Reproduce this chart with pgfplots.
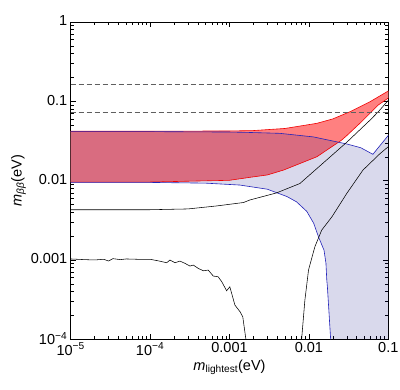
\documentclass[border=0pt]{standalone}
\usepackage{fontspec}
\setmainfont{Liberation Sans}
\usepackage{pgfplots}
\pgfplotsset{compat=1.18}

\definecolor{bandred}{RGB}{255,128,128}
\definecolor{linered}{RGB}{240,0,0}
\definecolor{lineblue}{RGB}{35,35,185}
\definecolor{regionblue}{RGB}{0,0,128}
\definecolor{dashgray}{RGB}{95,95,95}

\begin{document}
\begin{tikzpicture}
\begin{axis}[
  scale only axis,
  width=317.6pt, height=317.3pt,
  xmode=log, ymode=log,
  xmin=1e-5, xmax=0.1, ymin=1e-4, ymax=1,
  xtick={1e-5,1e-4,0.001,0.01,0.1},
  xticklabels={10\textsuperscript{−5},10\textsuperscript{−4},0.001,0.01,0.1},
  ytick={1e-4,0.001,0.01,0.1,1},
  yticklabels={10\textsuperscript{−4},0.001,0.01,0.1,1},
  /pgf/number format/assume math mode=true,
  tick label style={font=\fontsize{14.5}{16}\selectfont},
  label style={font=\fontsize{14.5}{16}\selectfont},
  major tick length=5pt, minor tick length=3pt,
  every tick/.style={black, line width=0.5pt},
  axis line style={line width=0.9pt},
  xlabel={\textit{m}\textsubscript{lightest}(eV)},
  ylabel={\textit{m}\textsubscript{\textit{ββ}}(eV)},
  xlabel style={yshift=2pt},
  ylabel style={yshift=-2pt},
  yticklabel style={yshift=1pt},
]
\coordinate (sw) at (rel axis cs:0,0);
\coordinate (ne) at (rel axis cs:1,1);

% red band
\addplot[fill=bandred, draw=none] coordinates {
  (1e-5,0.042) (1e-4,0.042) (0.001,0.0423) (0.002,0.0428) (0.005,0.0455)
  (0.0126,0.0528) (0.02,0.060) (0.033,0.074) (0.059,0.099) (0.1,0.135)
  (0.1,0.11) (0.075,0.09) (0.044,0.053) (0.03,0.037) (0.0259,0.0325)
  (0.0126,0.020) (0.0048,0.0136) (0.003,0.0118) (0.0018,0.011)
  (0.001,0.0101) (1e-4,0.0096) (1e-5,0.0096)
} --cycle;

% blue region
\addplot[fill=regionblue, fill opacity=0.15, draw=none] coordinates {
  (1e-5,0.0415) (1e-4,0.0415) (0.001,0.041) (0.0018,0.0405) (0.0043,0.0395)
  (0.0114,0.0356) (0.03,0.029) (0.045,0.026) (0.064,0.0215) (0.1,0.0372)
  (0.1,1e-4) (0.0188,1e-4)
  (0.0171,0.00046) (0.0168,0.00056) (0.0164,0.00091) (0.0155,0.00133)
  (0.0132,0.00196) (0.0115,0.0029) (0.0094,0.0041) (0.007,0.0054)
  (0.0053,0.0063) (0.003,0.0078) (0.00135,0.0088) (0.0005,0.0093)
  (1e-4,0.0095) (1e-5,0.0095)
} --cycle;

% red band edges
\addplot[linered, line width=0.6pt] coordinates {
  (1e-5,0.042) (1e-4,0.042) (0.001,0.0423) (0.002,0.0428) (0.005,0.0455)
  (0.0126,0.0528) (0.02,0.060) (0.033,0.074) (0.059,0.099) (0.1,0.135)
};
\addplot[linered, line width=0.6pt] coordinates {
  (1e-5,0.0096) (1e-4,0.0096) (0.001,0.0101) (0.0018,0.011) (0.003,0.0118)
  (0.0048,0.0136) (0.0126,0.020) (0.0259,0.0325) (0.03,0.037)
  (0.044,0.053) (0.075,0.09) (0.1,0.11)
};

% blue region edges
\addplot[lineblue, line width=0.6pt] coordinates {
  (1e-5,0.0415) (1e-4,0.0415) (0.001,0.041) (0.0018,0.0405) (0.0043,0.0395)
  (0.0114,0.0356) (0.03,0.029) (0.045,0.026) (0.064,0.0215) (0.1,0.0372)
};
\addplot[lineblue, line width=0.6pt] coordinates {
  (1e-5,0.0095) (1e-4,0.0095) (0.0005,0.0093) (0.00135,0.0088) (0.003,0.0078)
  (0.0053,0.0063) (0.007,0.0054) (0.0094,0.0041) (0.0115,0.0029)
  (0.0132,0.00196) (0.0155,0.00133) (0.0164,0.00091) (0.0168,0.00056)
  (0.0171,0.00046) (0.0188,1e-4)
};

% black curves
\addplot[black, line width=0.55pt] coordinates {
  (1e-5,0.0043) (1e-4,0.0043) (0.0003,0.0044) (0.00069,0.0048)
  (0.0015,0.0053) (0.0018,0.0057) (0.0039,0.007) (0.0077,0.0092)
  (0.0114,0.013) (0.03,0.0305) (0.059,0.058) (0.075,0.074) (0.1,0.103)
};
\addplot[black, line width=0.55pt] coordinates {
  (0.0081,1e-4) (0.0089,0.00031) (0.0099,0.00075) (0.0119,0.00147)
  (0.0145,0.00238) (0.0195,0.0035) (0.03,0.0069) (0.048,0.0136)
  (0.079,0.022) (0.1,0.0268)
};
\addplot[black, line width=0.55pt] coordinates {
  (1e-5,0.00103) (1.5e-5,0.00101) (2e-5,0.00100) (2.6e-5,0.00102)
  (3.0e-5,0.00097) (3.4e-5,0.00104) (4.2e-5,0.00101) (5e-5,0.00103)
  (7e-5,0.00102) (1e-4,0.00102) (1.3e-4,0.00097) (1.62e-4,0.000923)
  (1.78e-4,0.000998) (2.06e-4,0.000923) (2.38e-4,0.000968)
  (2.75e-4,0.000906) (3.18e-4,0.000838) (3.5e-4,0.000863)
  (4.05e-4,0.000783) (4.68e-4,0.000731) (5.4e-4,0.000746)
  (6.25e-4,0.000627) (7.2e-4,0.000614) (8e-4,0.000531)
  (9.2e-4,0.000409) (1.01e-3,0.000459) (1.17e-3,0.00027)
  (1.36e-3,0.000222) (1.47e-3,0.000192) (1.61e-3,0.0001)
};

% dashed limits
\addplot[dashgray, line width=1.2pt, dash pattern=on 5pt off 3pt] coordinates {(1e-5,0.164) (0.1,0.164)};
\addplot[dashgray, line width=1.2pt, dash pattern=on 5pt off 3pt] coordinates {(1e-5,0.072) (0.1,0.072)};
\end{axis}
\pgfresetboundingbox
\path ([shift={(-70.7pt,-50.7pt)}]sw) rectangle ([shift={(11.7pt,22pt)}]ne);
\end{tikzpicture}
\end{document}
